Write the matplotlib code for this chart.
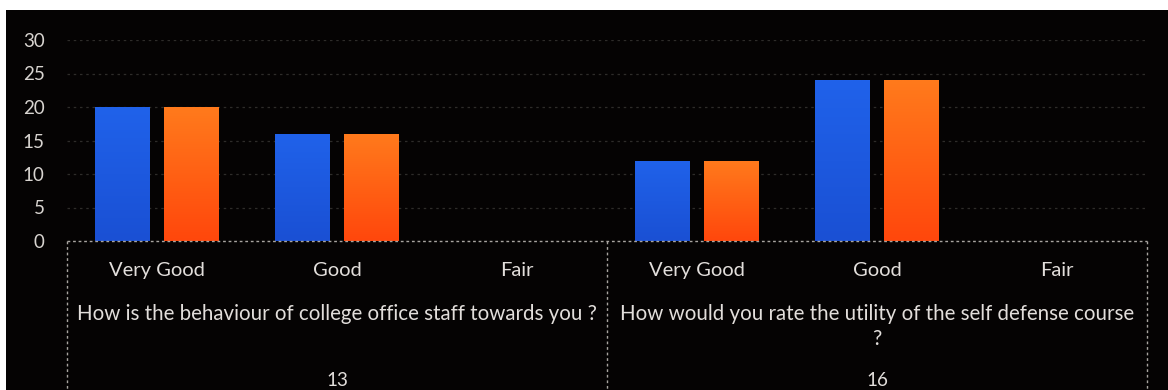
import matplotlib
matplotlib.use("Agg")
from matplotlib import pyplot as plt
from matplotlib.patches import Rectangle
from matplotlib.colors import LinearSegmentedColormap
import matplotlib.transforms as mtransforms
import numpy as np

plt.rcParams['font.family'] = ['Lato', 'DejaVu Sans']

# responses per rating, two identical series (count / total)
ratings = ['Very Good', 'Good', 'Fair']
questions = ['How is the behaviour of college office staff towards you ?',
             'How would you rate the utility of the self defense course\n?']
question_ids = ['13', '16']
series_a = [20, 16, 0, 12, 24, 0]
series_b = [20, 16, 0, 12, 24, 0]
y_ticks = [0, 5, 10, 15, 20, 25, 30]

W, H = 1168, 390
fig = plt.figure(figsize=(W / 100, H / 100), dpi=100, facecolor='white')
fig.patches.append(Rectangle((6 / W, 0), 1 - 6 / W, 380 / H, transform=fig.transFigure,
                             facecolor='#050303', edgecolor='none', zorder=-10))

ax_l, ax_r, ax_b, ax_t = 67, 1147, 241, 40
ax = fig.add_axes([ax_l / W, (H - ax_b) / H, (ax_r - ax_l) / W, (ax_b - ax_t) / H])
ax.set_facecolor('#050303')
ax_h = ax_b - ax_t

x = np.arange(len(series_a))
bw = 0.305
off = 0.19

blue_cmap = LinearSegmentedColormap.from_list('b', ['#1a50d4', '#2062ea'])
orange_cmap = LinearSegmentedColormap.from_list('o', ['#ff470c', '#ff7a1c'])


def gradient_bars(xs, vals, cmap):
    bars = ax.bar(xs, vals, width=bw, color='none', edgecolor='none', zorder=3)
    grad = np.linspace(0, 1, 100).reshape(-1, 1)
    for b in bars:
        h = b.get_height()
        if h <= 0:
            continue
        x0 = b.get_x()
        im = ax.imshow(grad, cmap=cmap, origin='lower', aspect='auto',
                       extent=(x0, x0 + b.get_width(), 0, h), zorder=3)
        im.set_clip_path(b)
    return bars


gradient_bars(x - off, series_a, blue_cmap)
gradient_bars(x + off, series_b, orange_cmap)

ax.set_xlim(-0.5, len(x) - 0.5)
ax.set_ylim(0, 30)
ax.set_yticks(y_ticks)
ax.tick_params(axis='y', length=0, pad=16, labelsize=13.5, labelcolor='#d8d4d0')
ax.yaxis.grid(True, color='#2e2c2a', linestyle=(0, (2, 3)), linewidth=0.9)
ax.set_axisbelow(True)
for s in ax.spines.values():
    s.set_visible(False)

ax.set_xticks(x)
ax.set_xticklabels(ratings * 2)
ax.tick_params(axis='x', length=0, pad=15, labelsize=14.5, labelcolor='#e2dedb')

# multi-level category frame
trans = mtransforms.blended_transform_factory(ax.transData, ax.transAxes)
frac = lambda ypx: (ax_b - ypx) / ax_h
line_kw = dict(color='#a8a4a0', linestyle=(0, (2, 2)), linewidth=1.0, clip_on=False, zorder=4)
ax.plot([-0.5, len(x) - 0.5], [0, 0], transform=trans, **line_kw)
for xv in [-0.5, 2.5, 5.5]:
    ax.plot([xv, xv], [0, frac(H)], transform=trans, **line_kw)

for i, (q, qid) in enumerate(zip(questions, question_ids)):
    cx = i * 3 + 1
    ax.text(cx, frac(304), q, transform=trans, ha='center', va='top',
            fontsize=14.8, color='#e2dedb', linespacing=1.3)
    ax.text(cx, frac(389), qid, transform=trans, ha='center', va='bottom',
            fontsize=13.5, color='#e2dedb')

fig.savefig('out.png', dpi=100, facecolor=fig.get_facecolor())
